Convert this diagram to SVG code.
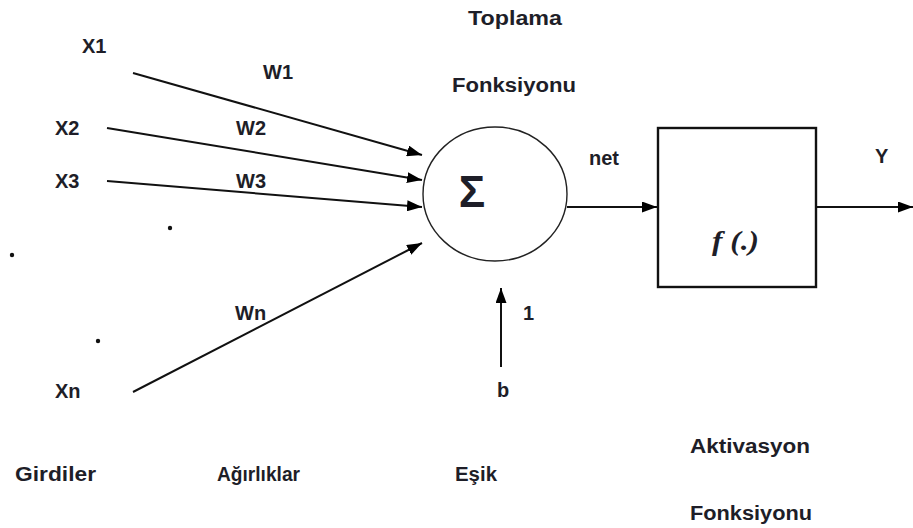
<svg xmlns="http://www.w3.org/2000/svg" width="913" height="528" viewBox="0 0 913 528">
<defs>
<marker id="ah" viewBox="0 0 15 11" refX="15" refY="5.5" markerWidth="7.5" markerHeight="5.5" markerUnits="strokeWidth" orient="auto">
<path d="M0,0 L15,5.5 L0,11 Z" fill="#000"/>
</marker>
</defs>
<style>
text{font-family:"Liberation Sans",Arial,sans-serif;font-weight:bold;font-size:20px;fill:#1e1e28}
.c{stroke:#111;stroke-width:2;fill:none;marker-end:url(#ah)}
.dot{fill:#111}
</style>
<rect width="913" height="528" fill="#fff"/>
<g id="connectors">
<path class="c" d="M133,73 L422,155"/>
<path class="c" d="M107,128 L422,180"/>
<path class="c" d="M107,181 L422,207"/>
<path class="c" d="M133,392 L422,243"/>
<path class="c" d="M567,207 L657,207"/>
<path class="c" d="M816,207 L913,207"/>
<path class="c" d="M501,367 L501,288"/>
</g>
<g id="sum">
<ellipse cx="495" cy="194" rx="72" ry="67" fill="#fff" stroke="#222" stroke-width="1.4"/>
<text x="472" y="207" text-anchor="middle" style="font-size:44px">Σ</text>
</g>
<g id="activation">
<rect x="658" y="128" width="158" height="159" fill="#fff" stroke="#111" stroke-width="2.4"/>
<text x="712" y="250" textLength="47" lengthAdjust="spacingAndGlyphs" style="font-family:'Liberation Serif',serif;font-style:italic;font-size:27px">f (.)</text>
</g>
<g id="labels">
<text x="468" y="25" textLength="94" lengthAdjust="spacingAndGlyphs">Toplama</text>
<text x="452" y="92" textLength="124" lengthAdjust="spacingAndGlyphs">Fonksiyonu</text>
<text x="82" y="53">X1</text>
<text x="263" y="79">W1</text>
<text x="55" y="135">X2</text>
<text x="236" y="135">W2</text>
<text x="55" y="188">X3</text>
<text x="236" y="188">W3</text>
<text x="235" y="320">Wn</text>
<text x="55" y="398">Xn</text>
<text x="589" y="165">net</text>
<text x="875" y="163">Y</text>
<text x="523" y="320">1</text>
<text x="497" y="397">b</text>
<text x="15" y="481" textLength="81" lengthAdjust="spacingAndGlyphs">Girdiler</text>
<text x="217" y="481" textLength="83" lengthAdjust="spacingAndGlyphs">Ağırlıklar</text>
<text x="455" y="481" textLength="42" lengthAdjust="spacingAndGlyphs">Eşik</text>
<text x="690" y="453" textLength="120" lengthAdjust="spacingAndGlyphs">Aktivasyon</text>
<text x="690" y="520" textLength="122" lengthAdjust="spacingAndGlyphs">Fonksiyonu</text>
</g>
<g id="dots">
<circle class="dot" cx="12" cy="255" r="2.2"/>
<circle class="dot" cx="170" cy="228" r="2.2"/>
<circle class="dot" cx="98" cy="341" r="2.2"/>
</g>
</svg>
